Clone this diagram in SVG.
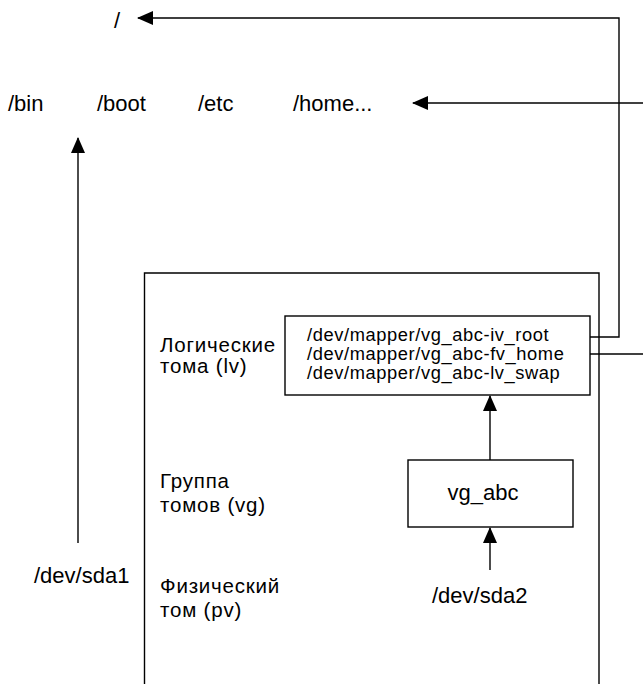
<svg xmlns="http://www.w3.org/2000/svg" width="643" height="684" viewBox="0 0 643 684">
<defs>
<style>
text{font-family:"Liberation Sans",Arial,sans-serif;fill:#000;}
.l{font-size:22px;}
.t{font-size:20.5px;letter-spacing:0.8px;}
.m{font-size:18.3px;letter-spacing:0.6px;}
.box{fill:none;stroke:#000;stroke-width:1.4;}
.c{fill:none;stroke:#000;stroke-width:1.4;}
</style>
<marker id="ah" markerUnits="userSpaceOnUse" markerWidth="16" markerHeight="14" viewBox="0 0 16 14" refX="15" refY="7" orient="auto">
<path d="M0,0 L16,7 L0,14 z" fill="#000"/>
</marker>
</defs>
<g id="mounts">
<text class="l" x="114" y="28">/</text>
<text class="l" x="8" y="111">/bin</text>
<text class="l" x="97" y="111">/boot</text>
<text class="l" x="198" y="111">/etc</text>
<text class="l" x="293" y="111">/home...</text>
</g>
<g id="container">
<path class="box" d="M144.5,684 V273 H599 V684"/>
</g>
<g id="labels">
<text class="t" x="160" y="352">Логические</text>
<text class="t" x="160" y="373">тома (lv)</text>
<text class="t" x="160" y="488">Группа</text>
<text class="t" x="160" y="512">томов (vg)</text>
<text class="t" x="160" y="593">Физический</text>
<text class="t" x="160" y="617">том (pv)</text>
</g>
<g id="lv">
<rect class="box" x="285" y="316" width="305" height="79"/>
<text class="m" x="307" y="341">/dev/mapper/vg_abc-iv_root</text>
<text class="m" x="307" y="360">/dev/mapper/vg_abc-fv_home</text>
<text class="m" x="307" y="379">/dev/mapper/vg_abc-lv_swap</text>
</g>
<g id="vg">
<rect class="box" x="408" y="460" width="165" height="67"/>
<text class="l" x="483" y="500" text-anchor="middle">vg_abc</text>
</g>
<g id="sda1">
<text class="l" x="34" y="583">/dev/sda1</text>
</g>
<g id="sda2">
<text class="l" x="432" y="603">/dev/sda2</text>
</g>
<g id="connectors">
<path class="c" d="M590,337 H619 V18 H138" marker-end="url(#ah)"/>
<path class="c" d="M590,354 H643"/>
<path class="c" d="M643,103 H413" marker-end="url(#ah)"/>
<path class="c" d="M78,543 V138" marker-end="url(#ah)"/>
<path class="c" d="M490,460 V396" marker-end="url(#ah)"/>
<path class="c" d="M490,570 V528" marker-end="url(#ah)"/>
</g>
</svg>
